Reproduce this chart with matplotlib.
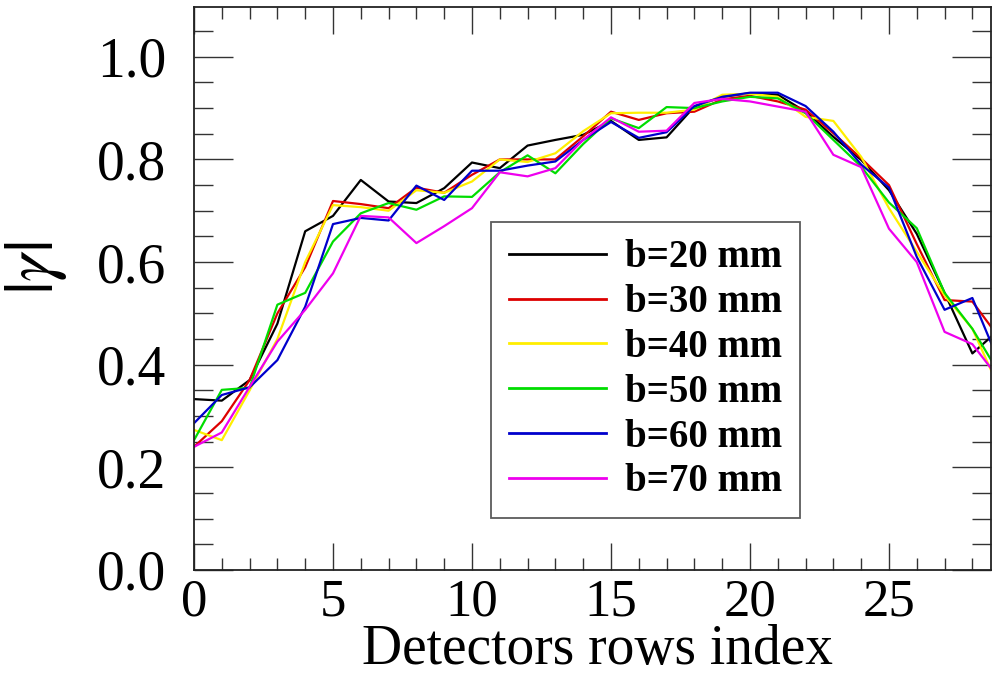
import matplotlib
matplotlib.use("Agg")
import matplotlib.pyplot as plt
from matplotlib.ticker import MultipleLocator

# Detector row index
rows = list(range(30))

# |gamma| for each source separation b
g_b20 = [0.333, 0.330, 0.370, 0.480, 0.660, 0.690, 0.760, 0.718, 0.715, 0.744,
         0.794, 0.783, 0.827, 0.838, 0.848, 0.875, 0.838, 0.843, 0.903, 0.922,
         0.929, 0.926, 0.893, 0.844, 0.799, 0.740, 0.655, 0.540, 0.422, 0.470]
g_b30 = [0.240, 0.290, 0.370, 0.500, 0.590, 0.719, 0.713, 0.705, 0.745, 0.735,
         0.770, 0.800, 0.800, 0.800, 0.845, 0.893, 0.877, 0.890, 0.893, 0.917,
         0.924, 0.913, 0.897, 0.851, 0.802, 0.750, 0.635, 0.526, 0.523, 0.450]
g_b40 = [0.273, 0.253, 0.350, 0.450, 0.600, 0.711, 0.707, 0.700, 0.740, 0.735,
         0.757, 0.800, 0.795, 0.812, 0.855, 0.890, 0.891, 0.891, 0.897, 0.926,
         0.928, 0.922, 0.883, 0.875, 0.805, 0.705, 0.620, 0.535, 0.470, 0.350]
g_b50 = [0.253, 0.351, 0.355, 0.517, 0.540, 0.640, 0.695, 0.715, 0.702, 0.728,
         0.727, 0.775, 0.808, 0.773, 0.830, 0.880, 0.861, 0.902, 0.900, 0.913,
         0.922, 0.919, 0.890, 0.838, 0.786, 0.716, 0.666, 0.540, 0.470, 0.380]
g_b60 = [0.286, 0.341, 0.356, 0.409, 0.513, 0.674, 0.686, 0.681, 0.749, 0.721,
         0.778, 0.778, 0.788, 0.796, 0.838, 0.873, 0.842, 0.853, 0.904, 0.922,
         0.930, 0.930, 0.904, 0.854, 0.790, 0.745, 0.610, 0.507, 0.530, 0.400]
g_b70 = [0.240, 0.268, 0.357, 0.445, 0.507, 0.578, 0.690, 0.687, 0.637, 0.670,
         0.705, 0.775, 0.767, 0.783, 0.838, 0.882, 0.854, 0.856, 0.910, 0.918,
         0.913, 0.903, 0.893, 0.809, 0.785, 0.665, 0.600, 0.464, 0.440, 0.370]

series = [g_b20, g_b30, g_b40, g_b50, g_b60, g_b70]
labels = ["b=20 mm", "b=30 mm", "b=40 mm", "b=50 mm", "b=60 mm", "b=70 mm"]
colors = ["#000000", "#dd0000", "#ffee00", "#00dd00", "#0000cc", "#ee00ee"]

plt.rcParams["font.family"] = ["Liberation Serif", "DejaVu Serif"]
plt.rcParams["mathtext.fontset"] = "stix"

fig = plt.figure(figsize=(9.92, 6.79), dpi=100)
ax = fig.add_axes([194 / 992, 1 - 570 / 679, (991 - 194) / 992, (570 - 7) / 679])

for y, lab, c in zip(series, labels, colors):
    ax.plot(rows, y, color=c, lw=1.6, label=lab)

ax.set_xlim(0, 28.67)
ax.set_ylim(0, 1.097)

ax.xaxis.set_major_locator(MultipleLocator(5))
ax.xaxis.set_minor_locator(MultipleLocator(1))
ax.yaxis.set_major_locator(MultipleLocator(0.2))
ax.yaxis.set_minor_locator(MultipleLocator(0.05))
ax.yaxis.set_major_formatter(plt.FuncFormatter(lambda v, p: f"{v:.1f}"))

ax.tick_params(axis="x", which="both", direction="in", top=True, bottom=True,
               width=1.0, color="#333333", labelsize=38, pad=6)
ax.tick_params(axis="x", which="major", length=19.5)
ax.tick_params(axis="x", which="minor", length=8.6)
ax.tick_params(axis="y", which="both", direction="in", left=True, right=True,
               width=1.0, color="#333333", labelsize=40, pad=20)
ax.tick_params(axis="y", which="major", length=28)
ax.tick_params(axis="y", which="minor", length=13.5)

for s in ax.spines.values():
    s.set_linewidth(1.3)
    s.set_color("#222222")

fig.text(36 / 992, 1 - 268 / 679, r"$|\gamma|$", rotation=90, fontsize=50,
         ha="center", va="center")
fig.text(597 / 992, 1 - 650 / 679, "Detectors rows index", fontsize=40,
         ha="center", va="center")

leg = ax.legend(loc="upper left", bbox_to_anchor=(491 / 992, 1 - 222 / 679),
                bbox_transform=fig.transFigure, borderaxespad=0,
                prop={"weight": "bold", "size": 28}, frameon=True,
                fancybox=False, shadow=False, handlelength=2.5,
                handletextpad=0.5, labelspacing=0.2, borderpad=0.45)
leg.get_frame().set_edgecolor("#333333")
leg.get_frame().set_linewidth(1.3)
for ln in leg.get_lines():
    ln.set_linewidth(2.0)

fig.savefig("out.png", dpi=100)
